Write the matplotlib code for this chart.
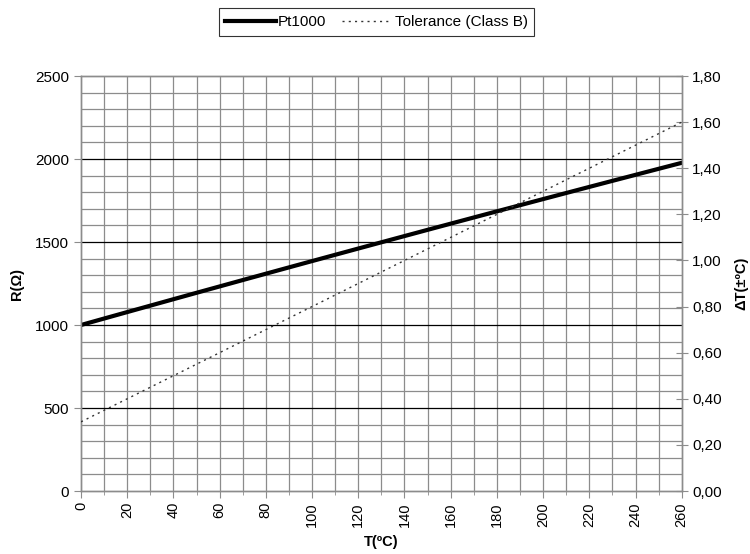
import matplotlib
matplotlib.use("Agg")
import matplotlib.pyplot as plt
from matplotlib.ticker import MultipleLocator, FuncFormatter

plt.rcParams['font.family'] = ['Liberation Sans', 'DejaVu Sans']

temps = [0, 10, 20, 30, 40, 50, 60, 70, 80, 90, 100, 110, 120, 130, 140, 150, 160,
         170, 180, 190, 200, 210, 220, 230, 240, 250, 260]
resistance = [1000.0, 1039.0, 1077.9, 1116.7, 1155.4, 1194.0, 1232.4, 1270.8, 1309.0,
              1347.1, 1385.1, 1422.9, 1460.7, 1498.3, 1535.8, 1573.3, 1610.5, 1647.7,
              1684.8, 1721.7, 1758.6, 1795.3, 1831.9, 1868.4, 1904.7, 1941.0, 1977.1]
tolerance = [0.30, 0.35, 0.40, 0.45, 0.50, 0.55, 0.60, 0.65, 0.70, 0.75, 0.80, 0.85,
             0.90, 0.95, 1.00, 1.05, 1.10, 1.15, 1.20, 1.25, 1.30, 1.35, 1.40, 1.45,
             1.50, 1.55, 1.60]

fig = plt.figure(figsize=(7.5, 5.54), dpi=100)
ax = fig.add_axes([0.108, 0.1137, 0.801, 0.7491])
ax2 = ax.twinx()

gridc = '#8c8c8c'
ax.set_xlim(0, 260)
ax.set_ylim(0, 2500)
ax2.set_ylim(0, 1.8)

# grid
for x in range(10, 260, 10):
    ax.axvline(x, color=gridc, lw=0.9, zorder=0)
for y in range(100, 2500, 100):
    if y % 500 == 0:
        ax.axhline(y, color='black', lw=0.9, zorder=0.5)
    else:
        ax.axhline(y, color=gridc, lw=0.9, zorder=0)

l1, = ax.plot(temps, resistance, color='black', lw=3, zorder=3, label='Pt1000')
l2, = ax2.plot(temps, tolerance, color='#333333', lw=1.0, ls=(0, (1.5, 3)), zorder=3,
               label='Tolerance (Class B)')

for a in (ax, ax2):
    for s in a.spines.values():
        s.set_color(gridc)
        s.set_linewidth(1.0)

ax.xaxis.set_major_locator(MultipleLocator(20))
ax.xaxis.set_minor_locator(MultipleLocator(10))
ax.yaxis.set_major_locator(MultipleLocator(500))
ax.tick_params(axis='x', which='major', labelrotation=90, length=5, color=gridc,
               labelsize=10.5, pad=3)
ax.tick_params(axis='x', which='minor', length=3, color=gridc)
ax.tick_params(axis='y', length=5, color=gridc, labelsize=11)

ax2.yaxis.set_major_locator(MultipleLocator(0.2))
ax2.yaxis.set_major_formatter(FuncFormatter(lambda v, p: f"{v:.2f}".replace('.', ',')))
ax2.tick_params(axis='y', direction='inout', length=8, color=gridc, labelsize=11)

ax.set_xlabel('T(ºC)', fontweight='bold', fontsize=10.5, labelpad=6)
ax.set_ylabel('R(Ω)', fontweight='bold', fontsize=10.5, labelpad=8)
ax2.set_ylabel('ΔT(±ºC)', fontweight='bold', fontsize=10.5, labelpad=9)

leg = fig.legend(handles=[l1, l2], loc='center', bbox_to_anchor=(0.502, 0.960),
                 ncol=2, frameon=True, fancybox=False, edgecolor='black',
                 fontsize=11, handlelength=3.3, handletextpad=0.15, columnspacing=1.0,
                 borderpad=0.45, borderaxespad=0)
leg.get_frame().set_linewidth(0.8)

fig.savefig('out.png', dpi=100)
